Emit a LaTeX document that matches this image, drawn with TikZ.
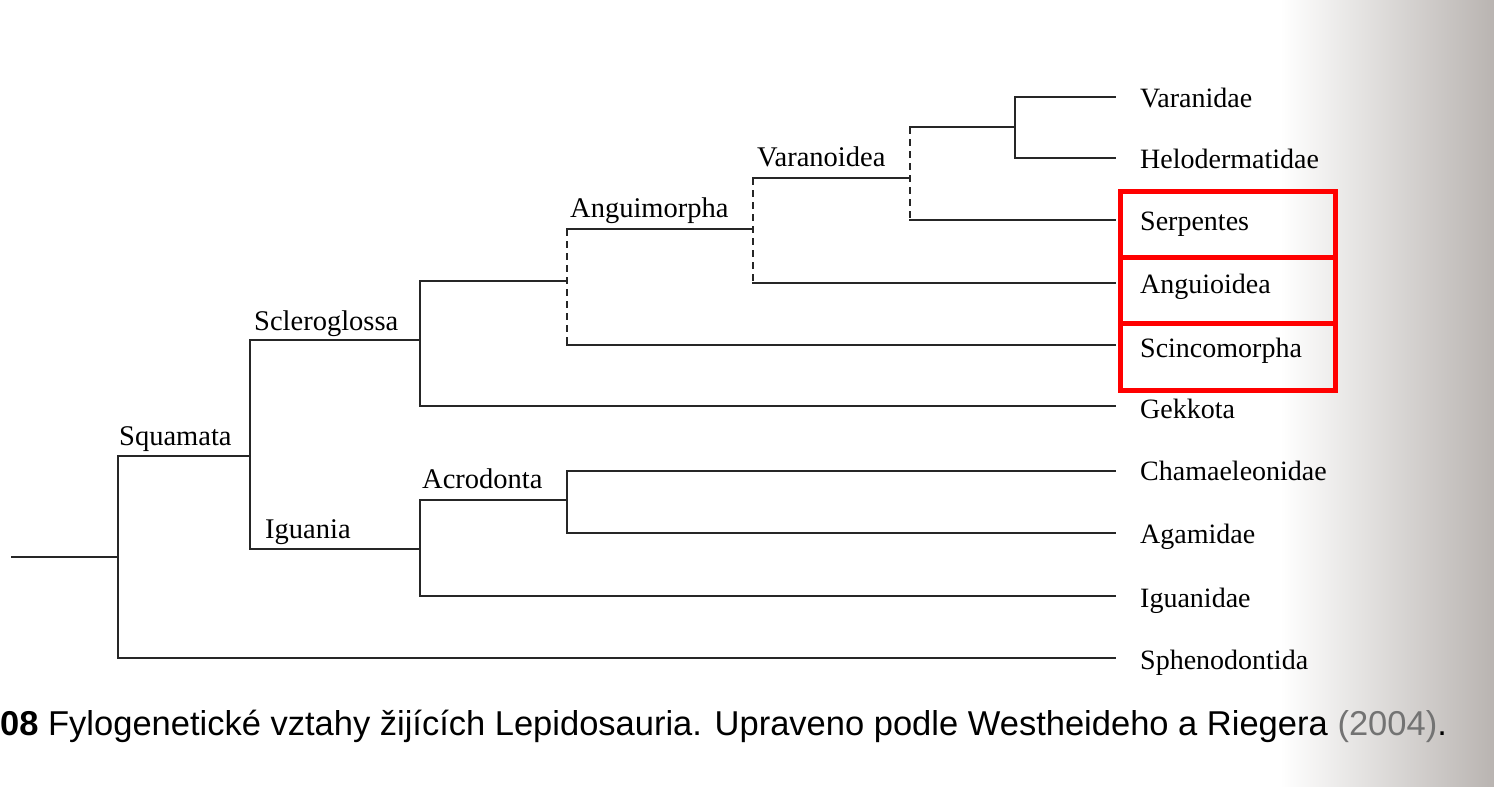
\documentclass[tikz,border=0pt]{standalone}
\usepackage{fontspec}
\setmainfont{Liberation Serif}
\newfontfamily\capfont{Liberation Sans}
\begin{document}
\begin{tikzpicture}[x=1pt,y=-1pt,
  branch/.style={line width=2.2pt, draw=black!85, line cap=rect},
  dashbranch/.style={line width=2.2pt, draw=black!85, dash pattern=on 7pt off 5pt},
  leaf/.style={anchor=base west, inner sep=0pt, font=\fontsize{28}{31}\selectfont},
  clade/.style={anchor=base west, inner sep=0pt, font=\fontsize{28.5}{31}\selectfont},
  redbox/.style={draw=red, line width=5pt, minimum width=215pt, inner sep=0pt},
  caption/.style={anchor=base west, inner sep=0pt, font=\capfont\fontsize{34.5}{38}\selectfont},
]
\useasboundingbox (0,0) rectangle (1494,787);
\fill[white] (0,0) rectangle (1494,787);
\shade[left color=white, right color={rgb,255:red,185;green,180;blue,177}] (1280,0) rectangle (1494,787);

% internal nodes
\coordinate (L)  at (12,557);
\coordinate (A)  at (118,557);
\coordinate (S)  at (250,456);
\coordinate (Sc) at (420,340);
\coordinate (Ig) at (420,549);
\coordinate (An) at (567,281);
\coordinate (Va) at (753,229);
\coordinate (Vx) at (910,178);
\coordinate (Vh) at (1015,127);
\coordinate (Ac) at (567,500);
% leaf ends
\coordinate (eVar) at (1115,97);
\coordinate (eHel) at (1115,158);
\coordinate (eSer) at (1115,220);
\coordinate (eAng) at (1115,283);
\coordinate (eSci) at (1115,345);
\coordinate (eGek) at (1115,406);
\coordinate (eCha) at (1115,471);
\coordinate (eAga) at (1115,533);
\coordinate (eIgu) at (1115,596);
\coordinate (eSph) at (1115,658);

% solid branches
\draw[branch] (L) -- (A);
\draw[branch] (A) |- (S);
\draw[branch] (A) |- (eSph);
\draw[branch] (S) |- (Sc);
\draw[branch] (S) |- (Ig);
\draw[branch] (Sc) |- (An);
\draw[branch] (Sc) |- (eGek);
\draw[branch] (Ig) |- (Ac);
\draw[branch] (Ig) |- (eIgu);
\draw[branch] (Ac) |- (eCha);
\draw[branch] (Ac) |- (eAga);
\draw[branch] (Vh) |- (eVar);
\draw[branch] (Vh) |- (eHel);
% dashed nodes
\draw[dashbranch] (An |- Va) -- (An |- eSci);
\draw[branch] (An |- Va) -- (Va);
\draw[branch] (An |- eSci) -- (eSci);
\draw[dashbranch] (Va |- Vx) -- (Va |- eAng);
\draw[branch] (Va |- Vx) -- (Vx);
\draw[branch] (Va |- eAng) -- (eAng);
\draw[dashbranch] (Vx |- Vh) -- (Vx |- eSer);
\draw[branch] (Vx |- Vh) -- (Vh);
\draw[branch] (Vx |- eSer) -- (eSer);

% clade labels
\node[clade] (lSq) at (119,445) {Squamata};
\node[clade] (lSc) at (254,330) {Scleroglossa};
\node[clade] (lIg) at (265,538) {Iguania};
\node[clade] (lAc) at (422,488) {Acrodonta};
\node[clade] (lAn) at (570,217) {Anguimorpha};
\node[clade] (lVa) at (757,166) {Varanoidea};

% leaf labels
\node[leaf] (tVar) at (1140,107) {Varanidae};
\node[leaf] (tHel) at (1140,168) {Helodermatidae};
\node[leaf] (tSer) at (1140,230) {Serpentes};
\node[leaf] (tAng) at (1140,293) {Anguioidea};
\node[leaf] (tSci) at (1140,357) {Scincomorpha};
\node[leaf] (tGek) at (1140,418) {Gekkota};
\node[leaf] (tCha) at (1140,480) {Chamaeleonidae};
\node[leaf] (tAga) at (1140,543) {Agamidae};
\node[leaf] (tIgu) at (1140,607) {Iguanidae};
\node[leaf] (tSph) at (1140,669) {Sphenodontida};

% red highlight boxes
\node[redbox, minimum height=66pt] (bSer) at (1227.5,224) {};
\node[redbox, minimum height=66pt] (bAng) at (1227.5,290) {};
\node[redbox, minimum height=67pt] (bSci) at (1227.5,356.5) {};

% caption
\node[caption] (cap) at (0,735) {\textbf{08} Fylogenetické vztahy žijících Lepidosauria. Upraveno podle Westheideho a Riegera {\color{black!55}(2004)}.};
\end{tikzpicture}
\end{document}
